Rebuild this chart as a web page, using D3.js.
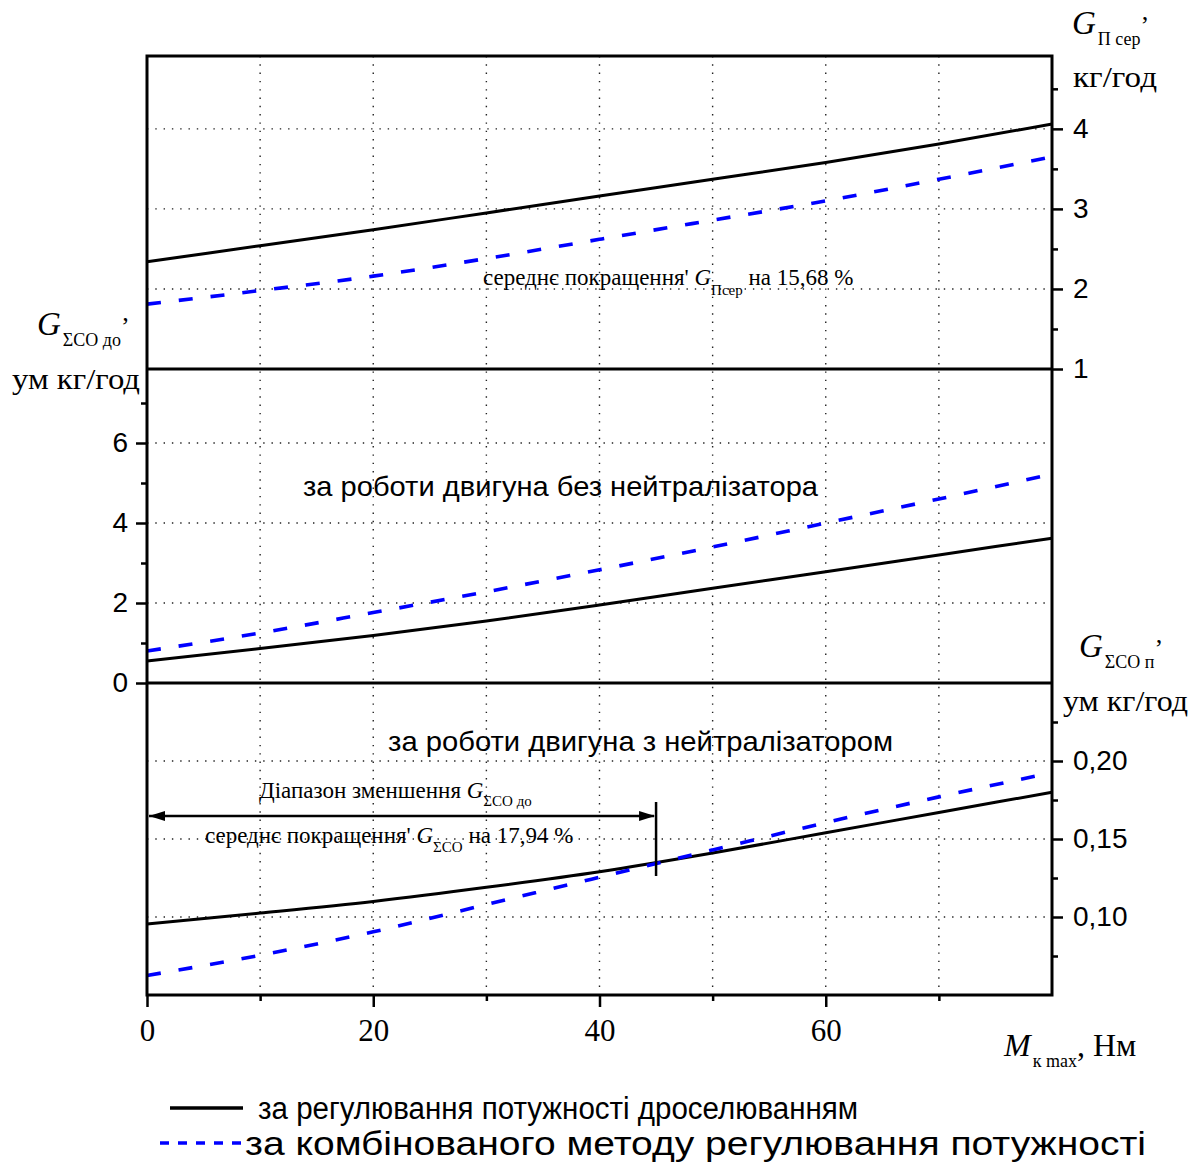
<!DOCTYPE html>
<html><head><meta charset="utf-8">
<script src="https://cdn.jsdelivr.net/npm/d3@7"></script>
<style>
body{margin:0;background:#fff;}
svg{display:block;}
.serif{font-family:"Liberation Serif","Times New Roman",serif;}
.sans{font-family:"Liberation Sans",Arial,sans-serif;}
</style></head>
<body><svg id="c" width="1196" height="1163"></svg>
<script>
// ---------- data ----------
const xVals = [0, 10, 20, 30, 40, 50, 60, 70, 80];
// top panel: G_П сер, кг/год
const topThrottle = [2.34, 2.54, 2.74, 2.95, 3.16, 3.37, 3.58, 3.81, 4.06];
const topCombined = [1.81, 1.98, 2.16, 2.38, 2.62, 2.86, 3.10, 3.37, 3.65];
// middle panel: G_ΣCO до, ум кг/год
const midThrottle = [0.55, 0.86, 1.19, 1.55, 1.95, 2.37, 2.78, 3.20, 3.62];
const midCombined = [0.80, 1.25, 1.76, 2.28, 2.83, 3.40, 4.00, 4.60, 5.22];
// bottom panel: G_ΣCO п, ум кг/год
const botThrottle = [0.0955, 0.1025, 0.1100, 0.1190, 0.1290, 0.1410, 0.1540, 0.1670, 0.1800];
const botCombined = [0.0625, 0.0755, 0.0905, 0.1080, 0.1255, 0.1430, 0.1605, 0.1770, 0.1925];
const xMajorTicks = [0, 20, 40, 60];
const xMinorTicks = [10, 30, 50, 70];
const xGrid = [10, 20, 30, 40, 50, 60, 70];
const topTicks = [1, 2, 3, 4];
const topMinor = [1.5, 2.5, 3.5, 4.5];
const topGrid = [2, 3, 4];
const midTicks = [0, 2, 4, 6];
const midMinor = [1, 3, 5, 7];
const midGrid = [2, 4, 6];
const botTicks = [0.10, 0.15, 0.20];
const botMinor = [0.075, 0.125, 0.175, 0.225];
const botGrid = [0.10, 0.15, 0.20];
const rangeEnd = 45;
const legendLabels = ["за регулювання потужності дроселюванням", "за комбінованого методу регулювання потужності"];

// ---------- layout ----------
const L = 147, R = 1052, T = 56, S1 = 369, S2 = 683, B = 995;
const svg = d3.select("#c");
const x = d3.scaleLinear().domain([0, 80]).range([L, R]);
const yTop = d3.scaleLinear().domain([1, 4.91]).range([S1, T]);
const yMid = d3.scaleLinear().domain([0, 7.85]).range([S2, S1]);
const yBot = d3.scaleLinear().domain([0.05, 0.25]).range([B, S2]);

const dot = {stroke: "#222", w: 1.4, dash: "1.4,6.9"};
// vertical grid
svg.append("g").selectAll("line").data(xGrid).join("line")
  .attr("x1", d => x(d)).attr("x2", d => x(d)).attr("y1", T).attr("y2", B)
  .attr("stroke", dot.stroke).attr("stroke-width", dot.w).attr("stroke-dasharray", dot.dash);
function hgrid(vals, y) {
  svg.append("g").selectAll("line").data(vals).join("line")
    .attr("x1", L).attr("x2", R).attr("y1", d => y(d)).attr("y2", d => y(d))
    .attr("stroke", dot.stroke).attr("stroke-width", dot.w).attr("stroke-dasharray", dot.dash);
}
hgrid(topGrid, yTop); hgrid(midGrid, yMid); hgrid(botGrid, yBot);

// curves
function curve(vals, y, dashed) {
  const line = d3.line().x((d, i) => x(xVals[i])).y(d => y(d)).curve(d3.curveMonotoneX);
  svg.append("path").attr("d", line(vals)).attr("fill", "none")
    .attr("stroke", dashed ? "#0000ff" : "#000").attr("stroke-width", dashed ? 3.6 : 3)
    .attr("stroke-dasharray", dashed ? "14,18" : null);
}
curve(topThrottle, yTop, false); curve(topCombined, yTop, true);
curve(midThrottle, yMid, false); curve(midCombined, yMid, true);
curve(botThrottle, yBot, false); curve(botCombined, yBot, true);

// axes (ticks via d3 axes)
function styleAxis(g, font, size) {
  g.select(".domain").remove();
  g.selectAll(".tick line").attr("stroke", "#000").attr("stroke-width", 2.5);
  g.selectAll(".tick text").attr("fill", "#000").attr("font-family", font).attr("font-size", size);
}
const sansF = '"Liberation Sans",Arial,sans-serif', serifF = '"Liberation Serif","Times New Roman",serif';
const comma = f => d => f(d).replace(".", ",");
// top right
svg.append("g").attr("transform", `translate(${R},0)`).call(d3.axisRight(yTop).tickValues(topTicks).tickSize(11).tickPadding(10).tickFormat(d3.format("d"))).call(g => styleAxis(g, sansF, 28));
svg.append("g").attr("transform", `translate(${R},0)`).call(d3.axisRight(yTop).tickValues(topMinor).tickSize(6).tickFormat("")).call(g => styleAxis(g, sansF, 28));
// middle left
svg.append("g").attr("transform", `translate(${L},0)`).call(d3.axisLeft(yMid).tickValues(midTicks).tickSize(11).tickPadding(8).tickFormat(d3.format("d"))).call(g => styleAxis(g, sansF, 28));
svg.append("g").attr("transform", `translate(${L},0)`).call(d3.axisLeft(yMid).tickValues(midMinor).tickSize(6).tickFormat("")).call(g => styleAxis(g, sansF, 28));
// bottom right
svg.append("g").attr("transform", `translate(${R},0)`).call(d3.axisRight(yBot).tickValues(botTicks).tickSize(11).tickPadding(10).tickFormat(comma(d3.format(".2f")))).call(g => styleAxis(g, sansF, 28));
svg.append("g").attr("transform", `translate(${R},0)`).call(d3.axisRight(yBot).tickValues(botMinor).tickSize(6).tickFormat("")).call(g => styleAxis(g, sansF, 28));
// x bottom
svg.append("g").attr("transform", `translate(0,${B})`).call(d3.axisBottom(x).tickValues(xMajorTicks).tickSize(12).tickPadding(12).tickFormat(d3.format("d"))).call(g => styleAxis(g, serifF, 31));
svg.append("g").attr("transform", `translate(0,${B})`).call(d3.axisBottom(x).tickValues(xMinorTicks).tickSize(6).tickFormat("")).call(g => styleAxis(g, serifF, 31));

// frame
const frame = svg.append("g").attr("stroke", "#000").attr("stroke-width", 3).attr("fill", "none");
frame.append("rect").attr("x", L).attr("y", T).attr("width", R - L).attr("height", B - T);
frame.append("line").attr("x1", L).attr("x2", R).attr("y1", S1).attr("y2", S1);
frame.append("line").attr("x1", L).attr("x2", R).attr("y1", S2).attr("y2", S2);

// axis titles
function title(xp, yp, sub) {
  const t = svg.append("text").attr("class", "serif").attr("x", xp).attr("y", yp).attr("font-size", 33);
  t.append("tspan").attr("font-style", "italic").text("G");
  t.append("tspan").attr("font-size", 18).attr("dy", 11).attr("dx", 2).text(sub);
  t.append("tspan").attr("font-size", 26).attr("dy", -11).text("’");
  return t;
}
title(1072, 34, "П сер");
svg.append("text").attr("class", "serif").attr("x", 1073).attr("y", 87).attr("font-size", 30).attr("textLength", 84).attr("lengthAdjust", "spacingAndGlyphs").text("кг/год");
title(37, 335, "ΣCO до");
svg.append("text").attr("class", "serif").attr("x", 12).attr("y", 389).attr("font-size", 30).attr("textLength", 128).attr("lengthAdjust", "spacingAndGlyphs").text("ум кг/год");
title(1079, 657, "ΣCO п");
svg.append("text").attr("class", "serif").attr("x", 1063).attr("y", 711).attr("font-size", 30).attr("textLength", 125).attr("lengthAdjust", "spacingAndGlyphs").text("ум кг/год");
// x title
{
  const t = svg.append("text").attr("class", "serif").attr("x", 1004).attr("y", 1056).attr("font-size", 32);
  t.append("tspan").attr("font-style", "italic").text("M");
  t.append("tspan").attr("font-size", 18).attr("dy", 11).attr("dx", 2).text("к max");
  t.append("tspan").attr("dy", -11).text(", Нм");
}

// panel labels
svg.append("text").attr("class", "sans").attr("x", 303).attr("y", 496).attr("font-size", 28).attr("textLength", 515).attr("lengthAdjust", "spacingAndGlyphs").text("за роботи двигуна без нейтралізатора");
svg.append("text").attr("class", "sans").attr("x", 388).attr("y", 751).attr("font-size", 28).attr("textLength", 505).attr("lengthAdjust", "spacingAndGlyphs").text("за роботи двигуна з нейтралізатором");

// annotations
{
  const t = svg.append("text").attr("class", "serif").attr("x", 483).attr("y", 285).attr("font-size", 23);
  t.append("tspan").text("середнє покращення' ");
  t.append("tspan").attr("font-style", "italic").text("G");
  t.append("tspan").attr("font-size", 15).attr("dy", 10).text("Пcep");
  t.append("tspan").attr("dy", -10).text(" на 15,68 %");
}
{
  const t = svg.append("text").attr("class", "serif").attr("x", 259).attr("y", 798).attr("font-size", 23);
  t.append("tspan").text("Діапазон зменшення ");
  t.append("tspan").attr("font-style", "italic").text("G");
  t.append("tspan").attr("font-size", 15).attr("dy", 8).text("ΣCO до");
}
{
  const t = svg.append("text").attr("class", "serif").attr("x", 205).attr("y", 843).attr("font-size", 23);
  t.append("tspan").text("середнє покращення' ");
  t.append("tspan").attr("font-style", "italic").text("G");
  t.append("tspan").attr("font-size", 15).attr("dy", 9).text("ΣCO");
  t.append("tspan").attr("dy", -9).text(" на 17,94 %");
}
// range arrow
const ay = 816, xe = x(rangeEnd);
svg.append("line").attr("x1", L + 2).attr("x2", xe - 2).attr("y1", ay).attr("y2", ay).attr("stroke", "#000").attr("stroke-width", 2.5);
svg.append("path").attr("d", `M${L + 2},${ay} l16,-5 l0,10 z`).attr("fill", "#000");
svg.append("path").attr("d", `M${xe - 1},${ay} l-16,-5 l0,10 z`).attr("fill", "#000");
svg.append("line").attr("x1", xe).attr("x2", xe).attr("y1", 802).attr("y2", 876).attr("stroke", "#000").attr("stroke-width", 2.5);

// legend
svg.append("line").attr("x1", 170).attr("x2", 243).attr("y1", 1108).attr("y2", 1108).attr("stroke", "#000").attr("stroke-width", 3.5);
svg.append("text").attr("class", "sans").attr("x", 258).attr("y", 1119).attr("font-size", 31).attr("textLength", 600).attr("lengthAdjust", "spacingAndGlyphs").text(legendLabels[0]);
svg.append("line").attr("x1", 160).attr("x2", 242).attr("y1", 1143).attr("y2", 1143).attr("stroke", "#0000ff").attr("stroke-width", 3.5).attr("stroke-dasharray", "9,9");
svg.append("text").attr("class", "sans").attr("x", 245).attr("y", 1155).attr("font-size", 33).attr("textLength", 901).attr("lengthAdjust", "spacingAndGlyphs").text(legendLabels[1]);
</script></body></html>
